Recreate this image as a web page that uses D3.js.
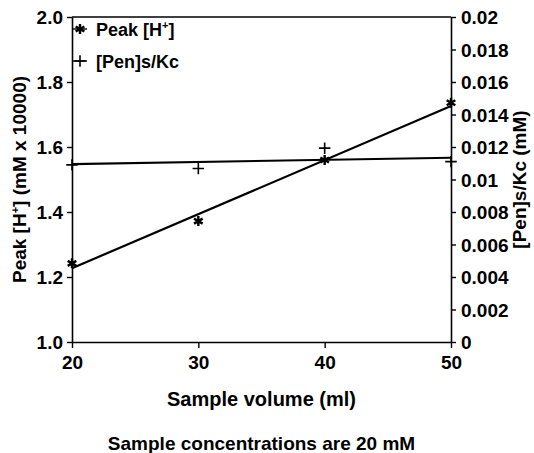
<!DOCTYPE html>
<html>
<head>
<meta charset="utf-8">
<script src="https://cdn.jsdelivr.net/npm/d3@7"></script>
<style>
  body { margin: 0; background: #fff; }
  svg { display: block; }
  text { font-family: "Liberation Sans", Arial, sans-serif; fill: #000; }
</style>
</head>
<body>
<div id="chart"></div>
<script>
// Data
const volumes = [20, 30, 40, 50];
const peakH = [1.242, 1.372, 1.560, 1.736];          // left axis, mM x 10000
const penKc = [0.0109, 0.01068, 0.01193, 0.0111];    // right axis, mM
const trendX = [20, 50];
const peakTrend = [1.227, 1.726];
const penTrend = [0.01095, 0.01134];

const xTicks = [20, 30, 40, 50];
const leftTicks = [1.0, 1.2, 1.4, 1.6, 1.8, 2.0];
const rightTicks = [0, 0.002, 0.004, 0.006, 0.008, 0.01, 0.012, 0.014, 0.016, 0.018, 0.02];

const W = 534, H = 453;
const margin = { top: 17, right: 83, bottom: 111, left: 72 };

const svg = d3.select("#chart").append("svg")
  .attr("width", W).attr("height", H);

svg.append("rect").attr("width", W).attr("height", H).attr("fill", "#fff");

const x = d3.scaleLinear().domain([20, 50]).range([margin.left, W - margin.right]);
const yL = d3.scaleLinear().domain([1, 2]).range([H - margin.bottom, margin.top]);
const yR = d3.scaleLinear().domain([0, 0.02]).range([H - margin.bottom, margin.top]);

const bottomY = H - margin.bottom;

// Axes
const styleAxis = g => {
  g.select(".domain").attr("stroke", "#000").attr("stroke-width", 1.6);
  g.selectAll(".tick line").attr("stroke", "#000").attr("stroke-width", 1.4);
  g.selectAll(".tick text")
    .style("font-size", "19px").style("font-weight", "bold")
    .style("font-family", "'Liberation Sans', Arial, sans-serif");
};

svg.append("g")
  .attr("transform", `translate(0,${bottomY})`)
  .call(d3.axisBottom(x).tickValues(xTicks).tickSize(6).tickPadding(8).tickSizeOuter(0))
  .call(styleAxis);

svg.append("g")
  .attr("transform", `translate(${margin.left},0)`)
  .call(d3.axisLeft(yL).tickValues(leftTicks).tickFormat(d3.format(".1f")).tickSize(5).tickPadding(4).tickSizeOuter(0))
  .call(styleAxis)
  .selectAll(".tick text").attr("dy", "0.36em");

svg.append("g")
  .attr("transform", `translate(${W - margin.right},0)`)
  .call(d3.axisRight(yR).tickValues(rightTicks).tickFormat(d => d3.format("")(+d.toFixed(3))).tickSize(5).tickPadding(5).tickSizeOuter(0))
  .call(styleAxis)
  .selectAll(".tick text").attr("dy", "0.36em");

// top frame line
svg.append("line")
  .attr("x1", x(20)).attr("x2", x(50))
  .attr("y1", yL(2)).attr("y2", yL(2))
  .attr("stroke", "#000").attr("stroke-width", 1.6);

// Trend lines
const peakLine = d3.line().x((d, i) => x(trendX[i])).y(d => yL(d));
const penLine = d3.line().x((d, i) => x(trendX[i])).y(d => yR(d));

svg.append("path").datum(peakTrend)
  .attr("fill", "none").attr("stroke", "#000").attr("stroke-width", 2.2)
  .attr("d", peakLine);

svg.append("path").datum(penTrend)
  .attr("fill", "none").attr("stroke", "#000").attr("stroke-width", 2.2)
  .attr("d", penLine);

// Markers
const star = d3.symbol().type(d3.symbolAsterisk).size(70);
const plus = d3.symbol().type(d3.symbolPlus).size(45);

svg.selectAll("path.peak")
  .data(peakH)
  .enter().append("path")
  .attr("class", "peak")
  .attr("transform", (d, i) => `translate(${x(volumes[i])},${yL(d)})`)
  .attr("d", star)
  .attr("fill", "none").attr("stroke", "#000").attr("stroke-width", 2.4);

svg.selectAll("path.pen")
  .data(penKc)
  .enter().append("path")
  .attr("class", "pen")
  .attr("transform", (d, i) => `translate(${x(volumes[i])},${yR(d)})`)
  .attr("d", plus)
  .attr("fill", "none").attr("stroke", "#000").attr("stroke-width", 1.6);

// Legend
const legend = svg.append("g").attr("transform", `translate(${margin.left},0)`);
const legendItems = [
  { y: 29, sym: star, sw: 2.4, label: "Peak [H", sup: "+", tail: "]" },
  { y: 61, sym: plus, sw: 1.6, label: "[Pen]s/Kc", sup: "", tail: "" }
];
legendItems.forEach(it => {
  legend.append("line").attr("x1", 0).attr("x2", 15).attr("y1", it.y).attr("y2", it.y)
    .attr("stroke", "#000").attr("stroke-width", 1.4);
  legend.append("path").attr("transform", `translate(8,${it.y})`).attr("d", it.sym)
    .attr("fill", "none").attr("stroke", "#000").attr("stroke-width", it.sw);
  const t = legend.append("text").attr("x", 24).attr("y", it.y + 7)
    .style("font-size", "18px").style("font-weight", "bold").text(it.label);
  if (it.sup) {
    t.append("tspan").attr("dy", -7).style("font-size", "11px").text(it.sup);
    t.append("tspan").attr("dy", 7).text(it.tail);
  }
});

// Axis titles
const leftTitle = svg.append("text")
  .attr("transform", `translate(26,${(yL(1) + yL(2)) / 2}) rotate(-90)`)
  .attr("text-anchor", "middle")
  .style("font-size", "19px").style("font-weight", "bold")
  .text("Peak [H");
leftTitle.append("tspan").attr("dy", -7).style("font-size", "11px").text("+");
leftTitle.append("tspan").attr("dy", 7).text("] (mM x 10000)");

svg.append("text")
  .attr("transform", `translate(526,${(yR(0) + yR(0.02)) / 2}) rotate(-90)`)
  .attr("text-anchor", "middle")
  .style("font-size", "19px").style("font-weight", "bold")
  .text("[Pen]s/Kc (mM)");

svg.append("text")
  .attr("x", (x(20) + x(50)) / 2).attr("y", 406)
  .attr("text-anchor", "middle")
  .style("font-size", "20px").style("font-weight", "bold")
  .text("Sample volume (ml)");

svg.append("text")
  .attr("x", (x(20) + x(50)) / 2).attr("y", 450)
  .attr("text-anchor", "middle")
  .style("font-size", "19px").style("font-weight", "bold")
  .text("Sample concentrations are 20 mM");
</script>
</body>
</html>
